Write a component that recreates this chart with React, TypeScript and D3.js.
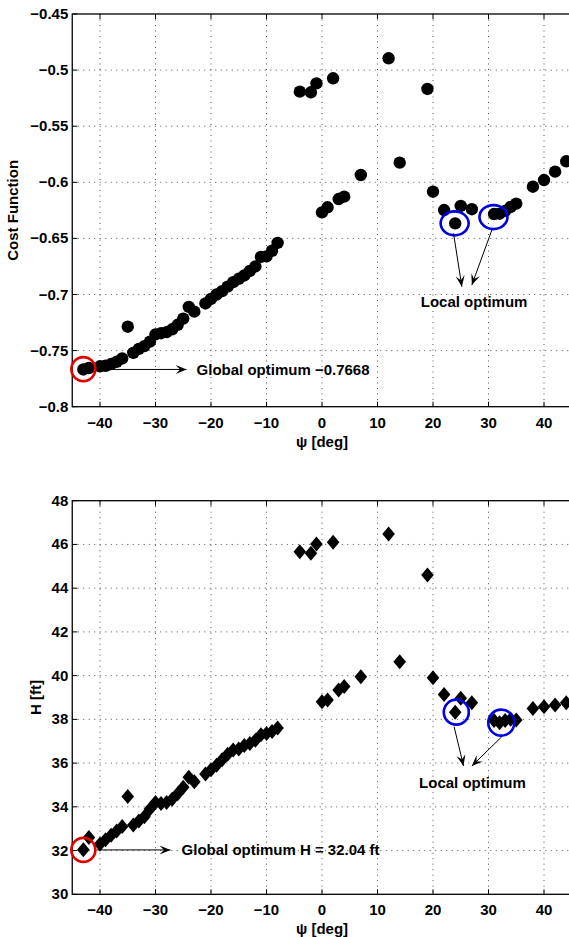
import React from 'react';
import * as d3 from 'd3';

// ---------- data ----------
const psi = [
  -43, -42, -40, -39, -38, -37, -36, -35, -34, -33, -32, -31, -30, -29, -28, -27, -26, -25, -24, -23,
  -21, -20, -19, -18, -17, -16, -15, -14, -13, -12, -11, -10, -9, -8,
  -4, -2, -1, 0, 1, 2, 3, 4, 7, 12, 14, 19, 20, 22, 24, 25, 27, 31, 32, 33, 34, 35, 38, 40, 42, 44,
];

const costValues = [
  -0.7668, -0.7655, -0.764, -0.7635, -0.762, -0.76, -0.757, -0.7287, -0.752, -0.7485, -0.746, -0.742,
  -0.7355, -0.7345, -0.7335, -0.731, -0.727, -0.7215, -0.711, -0.7153,
  -0.708, -0.704, -0.7, -0.697, -0.693, -0.689, -0.686, -0.683, -0.679, -0.675, -0.6665, -0.666, -0.661, -0.654,
  -0.5192, -0.5198, -0.5118, -0.6268, -0.6223, -0.5073, -0.6149, -0.6128, -0.5935, -0.4895, -0.5825,
  -0.5168, -0.6084, -0.6247, -0.6366, -0.6211, -0.624, -0.6283, -0.628, -0.6255, -0.622, -0.619,
  -0.6039, -0.598, -0.5905, -0.5813,
];

const heightValues = [
  32.04, 32.6, 32.3, 32.5, 32.7, 32.9, 33.1, 34.47, 33.17, 33.35, 33.55, 33.9, 34.2, 34.15, 34.2, 34.35,
  34.6, 34.9, 35.35, 35.15,
  35.5, 35.7, 35.9, 36.15, 36.4, 36.6, 36.65, 36.8, 36.9, 37.05, 37.3, 37.35, 37.45, 37.6,
  45.67, 45.6, 46.02, 38.81, 38.89, 46.1, 39.34, 39.5, 39.95, 46.48, 40.64, 44.6, 39.9, 39.14, 38.32,
  38.96, 38.76, 37.95, 37.85, 37.95, 38.0, 37.97, 38.5, 38.58, 38.66, 38.76,
];

const xTicks = [-40, -30, -20, -10, 0, 10, 20, 30, 40];
const costTicks = [-0.8, -0.75, -0.7, -0.65, -0.6, -0.55, -0.5, -0.45];
const heightTicks = [30, 32, 34, 36, 38, 40, 42, 44, 46, 48];

// ---------- layout ----------
const W = 569;
const H = 937;
const FONT = "'Liberation Sans', Arial, Helvetica, sans-serif";
const FS = 15;

const x = d3.scaleLinear().domain([-45, 45]).range([72.25, 571.75]);
const yCost = d3.scaleLinear().domain([-0.8, -0.45]).range([406.7, 14]);
const yH = d3.scaleLinear().domain([30, 48]).range([894.3, 500.7]);

const minus = (s: string) => s.replace('-', '\u2212');
const fmt = (v: number) => minus(String(Math.round(v * 100) / 100));

type Arrow = { x1: number; y1: number; x2: number; y2: number };
type Ellipse = { cx: number; cy: number; rx: number; ry: number; color: string };

interface PanelProps {
  y: d3.ScaleLinear<number, number>;
  yTicks: number[];
  values: number[];
  marker: 'circle' | 'diamond';
  ylabel: string;
  ylabelX: number;
  ellipses: Ellipse[];
  arrows: Arrow[];
  texts: { x: number; y: number; text: string; anchor: string }[];
  id: string;
}

function Panel(p: PanelProps) {
  const [x0, x1] = x.range();
  const yb = p.y.range()[0];
  const yt = p.y.range()[1];
  const sym = p.marker === 'circle' ? null : 'M0,-7.5 L6.3,0 L0,7.5 L-6.3,0 Z';
  return (
    <g>
      {/* grid */}
      {xTicks.map((t) => (
        <line key={'gx' + t} x1={x(t)} x2={x(t)} y1={yt} y2={yb} stroke="#222" strokeWidth={0.8} strokeDasharray="1 4.5" />
      ))}
      {p.yTicks.slice(1, -1).map((t) => (
        <line key={'gy' + t} x1={x0} x2={x1} y1={p.y(t)} y2={p.y(t)} stroke="#222" strokeWidth={0.8} strokeDasharray="1 4.5" />
      ))}
      {/* ticks */}
      {xTicks.map((t) => (
        <g key={'tx' + t}>
          <line x1={x(t)} x2={x(t)} y1={yb} y2={yb - 5} stroke="#000" strokeWidth={1} />
          <line x1={x(t)} x2={x(t)} y1={yt} y2={yt + 5} stroke="#000" strokeWidth={1} />
        </g>
      ))}
      {p.yTicks.map((t) => (
        <line key={'ty' + t} x1={x0} x2={x0 + 5} y1={p.y(t)} y2={p.y(t)} stroke="#000" strokeWidth={1} />
      ))}
      {/* box */}
      <rect x={x0} y={yt} width={x1 - x0} height={yb - yt} fill="none" stroke="#000" strokeWidth={1.3} />
      {/* tick labels */}
      {xTicks.map((t) => (
        <text key={'lx' + t} x={x(t)} y={yb + 21} textAnchor="middle" fontSize={FS} fontWeight="bold" fontFamily={FONT}>
          {fmt(t)}
        </text>
      ))}
      {p.yTicks.map((t) => (
        <text key={'ly' + t} x={x0 - 4} y={p.y(t) + 5} textAnchor="end" fontSize={FS} fontWeight="bold" fontFamily={FONT}>
          {fmt(t)}
        </text>
      ))}
      {/* axis labels */}
      <text x={x(0)} y={yb + 40} textAnchor="middle" fontSize={FS} fontWeight="bold" fontFamily={FONT}>
        ψ [deg]
      </text>
      <text
        transform={`translate(${p.ylabelX},${(yb + yt) / 2}) rotate(-90)`}
        textAnchor="middle"
        fontSize={FS}
        fontWeight="bold"
        fontFamily={FONT}
      >
        {p.ylabel}
      </text>
      {/* points */}
      {psi.map((d, i) =>
        sym === null ? (
          <circle key={'p' + i} cx={x(d)} cy={p.y(p.values[i])} r={6.2} fill="#000" />
        ) : (
          <path key={'p' + i} d={sym} transform={`translate(${x(d)},${p.y(p.values[i])})`} fill="#000" />
        )
      )}
      {/* annotations */}
      {p.ellipses.map((e, i) => (
        <ellipse key={'e' + i} cx={x(e.cx)} cy={p.y(e.cy)} rx={e.rx} ry={e.ry} fill="none" stroke={e.color} strokeWidth={2.6} />
      ))}
      {p.arrows.map((a, i) => (
        <line
          key={'a' + i}
          x1={x(a.x1)}
          y1={p.y(a.y1)}
          x2={x(a.x2)}
          y2={p.y(a.y2)}
          stroke="#000"
          strokeWidth={1}
          markerEnd={`url(#head-${p.id})`}
        />
      ))}
      {p.texts.map((t, i) => (
        <text key={'t' + i} x={x(t.x)} y={p.y(t.y)} textAnchor={t.anchor as any} fontSize={FS} fontWeight="bold" fontFamily={FONT}>
          {t.text}
        </text>
      ))}
      <defs>
        <marker
          id={`head-${p.id}`}
          viewBox="-12 -6 13 12"
          refX={0}
          refY={0}
          markerWidth={13}
          markerHeight={12}
          markerUnits="userSpaceOnUse"
          orient="auto"
        >
          <path d="M0,0 L-11,-4.5 L-6.5,0 L-11,4.5 Z" fill="#000" />
        </marker>
      </defs>
    </g>
  );
}

export default function App() {
  return (
    <svg
      width={W}
      height={H}
      viewBox={`0 0 ${W} ${H}`}
      style={{ position: 'absolute', left: 0, top: 0, background: '#fff' }}
    >
      <rect x={0} y={0} width={W} height={H} fill="#fff" />
      <Panel
        id="cost"
        y={yCost}
        yTicks={costTicks}
        values={costValues}
        marker="circle"
        ylabel="Cost Function"
        ylabelX={18}
        ellipses={[
          { cx: -43.0, cy: -0.7665, rx: 12, ry: 12, color: '#e00000' },
          { cx: 23.9, cy: -0.6366, rx: 14, ry: 12, color: '#0000e0' },
          { cx: 30.9, cy: -0.631, rx: 14, ry: 12, color: '#0000e0' },
        ]}
        arrows={[
          { x1: -40.6, y1: -0.7668, x2: -24.4, y2: -0.7668 },
          { x1: 23.7, y1: -0.6455, x2: 25.2, y2: -0.693 },
          { x1: 30.6, y1: -0.6425, x2: 27.0, y2: -0.6916 },
        ]}
        texts={[
          { x: -22.6, y: -0.7715, text: 'Global optimum \u22120.7668', anchor: 'start' },
          { x: 27.4, y: -0.7108, text: 'Local optimum', anchor: 'middle' },
        ]}
      />
      <Panel
        id="h"
        y={yH}
        yTicks={heightTicks}
        values={heightValues}
        marker="diamond"
        ylabel="H [ft]"
        ylabelX={41}
        ellipses={[
          { cx: -43.0, cy: 32.03, rx: 12, ry: 12, color: '#e00000' },
          { cx: 24.2, cy: 38.33, rx: 12.5, ry: 12.5, color: '#0000e0' },
          { cx: 32.3, cy: 37.85, rx: 13, ry: 13, color: '#0000e0' },
        ]}
        arrows={[
          { x1: -40.6, y1: 32.03, x2: -27.3, y2: 32.03 },
          { x1: 23.8, y1: 37.67, x2: 25.5, y2: 35.87 },
          { x1: 32.4, y1: 37.21, x2: 27.0, y2: 35.87 },
        ]}
        texts={[
          { x: -25.3, y: 31.8, text: 'Global optimum H = 32.04 ft', anchor: 'start' },
          { x: 27.1, y: 34.86, text: 'Local optimum', anchor: 'middle' },
        ]}
      />
    </svg>
  );
}
